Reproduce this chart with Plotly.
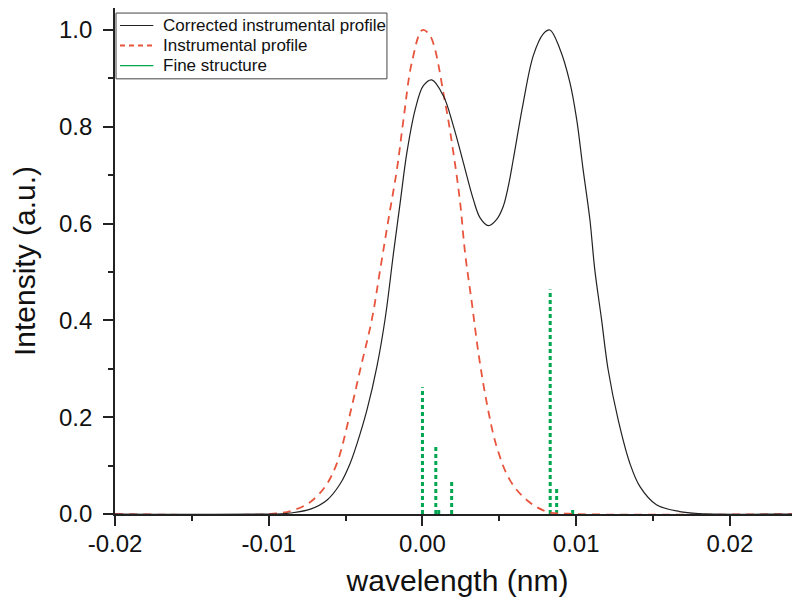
import plotly.graph_objects as go

# Instrumental profile (red dashed)
instr_x = [-0.020, -0.0095, -0.00838, -0.00729, -0.00632, -0.00556, -0.0048, -0.00405, -0.00329,
           -0.00275, -0.00221, -0.00166, -0.00123, -0.00069, 0.0, 0.0005, 0.00147, 0.00201,
           0.00245, 0.00277, 0.00321, 0.00364, 0.00418, 0.00483, 0.00569, 0.00678, 0.00808,
           0.0095, 0.025]
instr_y = [0, 0.001, 0.008, 0.025, 0.057, 0.105, 0.195, 0.298, 0.402,
           0.505, 0.609, 0.712, 0.816, 0.933, 1.0, 0.988, 0.851, 0.747,
           0.644, 0.540, 0.437, 0.333, 0.230, 0.139, 0.070, 0.029, 0.005,
           0.0005, 0]

# Corrected instrumental profile (black solid)
corr_x = [-0.020, -0.0092, -0.0086, -0.00729, -0.0062, -0.00534, -0.0047, -0.00426, -0.00361,
          -0.00296, -0.00242, -0.00188, -0.00145, -0.00101, -0.00047, 0.00006, 0.00061, 0.00136,
          0.00201, 0.00266, 0.00331, 0.00375, 0.00429, 0.00483, 0.00526, 0.00559, 0.00591,
          0.00656, 0.00721, 0.00786, 0.00829, 0.00894, 0.00959, 0.01003, 0.01045, 0.01089,
          0.01121, 0.01165, 0.01208, 0.01273, 0.01349, 0.01414, 0.01522, 0.01673, 0.0180, 0.025]
corr_y = [0, 0.0005, 0.002, 0.010, 0.029, 0.063, 0.105, 0.145, 0.215,
          0.305, 0.405, 0.540, 0.643, 0.747, 0.836, 0.885, 0.897, 0.864,
          0.802, 0.726, 0.650, 0.612, 0.596, 0.609, 0.636, 0.678, 0.733,
          0.850, 0.947, 0.992, 1.0, 0.961, 0.892, 0.816, 0.712, 0.609,
          0.505, 0.402, 0.298, 0.195, 0.105, 0.057, 0.019, 0.005, 0.001, 0]

# Fine structure sticks (green)
fine_pos = [0.0, 0.00087, 0.00106, 0.0019, 0.00831, 0.00873, 0.00977]
fine_h = [0.262, 0.141, 0.012, 0.072, 0.464, 0.052, 0.012]

x_tickvals = [-0.02, -0.01, 0.0, 0.01, 0.02]
x_ticktext = ["-0.02", "-0.01", "0.00", "0.01", "0.02"]
y_tickvals = [0.0, 0.2, 0.4, 0.6, 0.8, 1.0]
y_ticktext = ["0.0", "0.2", "0.4", "0.6", "0.8", "1.0"]

legend_names = ["Corrected instrumental profile", "Instrumental profile", "Fine structure"]

BLACK = "#222222"
RED = "#e8553d"
GREEN = "#00a650"
FONT = "Liberation Sans, Arial, sans-serif"

fig = go.Figure()

stick_x, stick_y = [], []
for p, h in zip(fine_pos, fine_h):
    stick_x += [p, p, None]
    stick_y += [0, h, None]

fig.add_trace(go.Scatter(x=stick_x, y=stick_y, mode="lines", showlegend=False,
                         line=dict(color=GREEN, width=3, dash="4px,3px")))
fig.add_trace(go.Scatter(x=instr_x, y=instr_y, mode="lines", showlegend=False,
                         line=dict(color=RED, width=1.8, dash="8px,6px", shape="spline", smoothing=1.0)))
fig.add_trace(go.Scatter(x=corr_x, y=corr_y, mode="lines", showlegend=False,
                         line=dict(color=BLACK, width=1.2, shape="spline", smoothing=1.0)))

axis_common = dict(showline=True, linecolor=BLACK, linewidth=1.6, mirror="ticks",
                   ticks="outside", ticklen=10, tickwidth=1.5, tickcolor=BLACK,
                   showgrid=False, zeroline=False, automargin=False,
                   tickfont=dict(family=FONT, size=24, color="#111111"))

fig.update_xaxes(range=[-0.02, 0.02456], tickvals=x_tickvals, ticktext=x_ticktext,
                 ticklabelstandoff=-3,
                 minor=dict(dtick=0.005, tick0=0, ticks="outside", ticklen=5, tickwidth=1.5,
                            tickcolor=BLACK, showgrid=False),
                 title=dict(text="wavelength (nm)", font=dict(family=FONT, size=30, color="#111111"),
                            standoff=14),
                 **axis_common)
fig.update_yaxes(range=[0, 1.0455], tickvals=y_tickvals, ticktext=y_ticktext,
                 ticklabelstandoff=6,
                 minor=dict(dtick=0.1, tick0=0, ticks="outside", ticklen=5, tickwidth=1.5,
                            tickcolor=BLACK, showgrid=False),
                 title=dict(text="Intensity (a.u.)", font=dict(family=FONT, size=30, color="#111111"),
                            standoff=20),
                 **axis_common)

# Manual legend box (paper coordinates)
shapes = [dict(type="rect", xref="paper", yref="paper", x0=0.0015, x1=0.397, y0=0.860, y1=0.990,
               line=dict(color="#444444", width=1), fillcolor="white", layer="above")]
rows = [0.9654, 0.9259, 0.8863]
styles = [dict(color=BLACK, width=1.2), dict(color=RED, width=1.8, dash="5px,4px"),
          dict(color=GREEN, width=1.3)]
annotations = []
for yy, st, name in zip(rows, styles, legend_names):
    shapes.append(dict(type="line", xref="paper", yref="paper", x0=0.0073, x1=0.056, y0=yy, y1=yy,
                       line=st, layer="above"))
    annotations.append(dict(text=name, xref="paper", yref="paper", x=0.0665, y=yy,
                            xanchor="left", yanchor="middle", showarrow=False,
                            font=dict(family=FONT, size=17, color="#111111")))

fig.update_layout(
    width=792, height=595,
    margin=dict(l=107, r=0, t=0, b=89),
    plot_bgcolor="white", paper_bgcolor="white",
    showlegend=False,
    shapes=shapes, annotations=annotations,
)

fig.write_html("out.html")
